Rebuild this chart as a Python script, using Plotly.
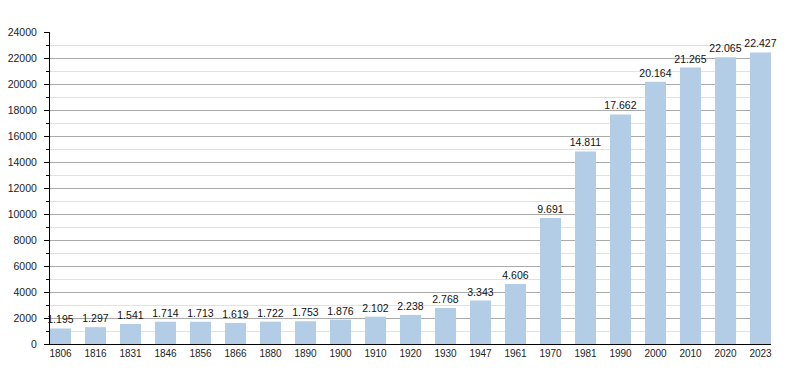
import plotly.graph_objects as go

years = ["1806", "1816", "1831", "1846", "1856", "1866", "1880", "1890", "1900", "1910",
         "1920", "1930", "1947", "1961", "1970", "1981", "1990", "2000", "2010", "2020", "2023"]
population = [1195, 1297, 1541, 1714, 1713, 1619, 1722, 1753, 1876, 2102,
              2238, 2768, 3343, 4606, 9691, 14811, 17662, 20164, 21265, 22065, 22427]

FONT = "Liberation Sans, Arial, sans-serif"

fig = go.Figure(
    go.Bar(
        x=years,
        y=population,
        marker=dict(color="#b4cde6", line=dict(width=0)),
        width=0.6,
        texttemplate="%{y:,}",
        textposition="outside",
        textangle=0,
        constraintext="none",
        textfont=dict(family=FONT, size=10.5, color="#111"),
        cliponaxis=False,
        hoverinfo="x+y",
    )
)

fig.update_layout(
    width=792,
    height=365,
    margin=dict(l=42, r=29, t=24, b=29),
    paper_bgcolor="white",
    plot_bgcolor="white",
    separators=",.",
    showlegend=False,
    font=dict(family=FONT, size=10.5, color="#222"),
    bargap=0.4,
)

fig.update_xaxes(
    type="category",
    range=[-0.3, len(years) - 1 + 0.3],
    automargin=False,
    showline=True,
    linecolor="#000",
    linewidth=1,
    ticks="",
    showgrid=False,
    tickfont=dict(family=FONT, size=10, color="#222"),
    fixedrange=True,
)

fig.update_yaxes(
    range=[0, 24000],
    automargin=False,
    dtick=2000,
    tickformat="d",
    showline=True,
    linecolor="#000",
    linewidth=1,
    ticks="outside",
    ticklen=5,
    tickcolor="#000",
    ticklabelstandoff=5,
    gridcolor="#aaaaaa",
    gridwidth=1,
    zeroline=False,
    minor=dict(dtick=1000, showgrid=True, gridcolor="#e2e2e2", gridwidth=1,
               ticks="outside", ticklen=3, tickcolor="#000"),
    tickfont=dict(family=FONT, size=10.5, color="#222"),
    fixedrange=True,
)

fig.write_html("out.html")
